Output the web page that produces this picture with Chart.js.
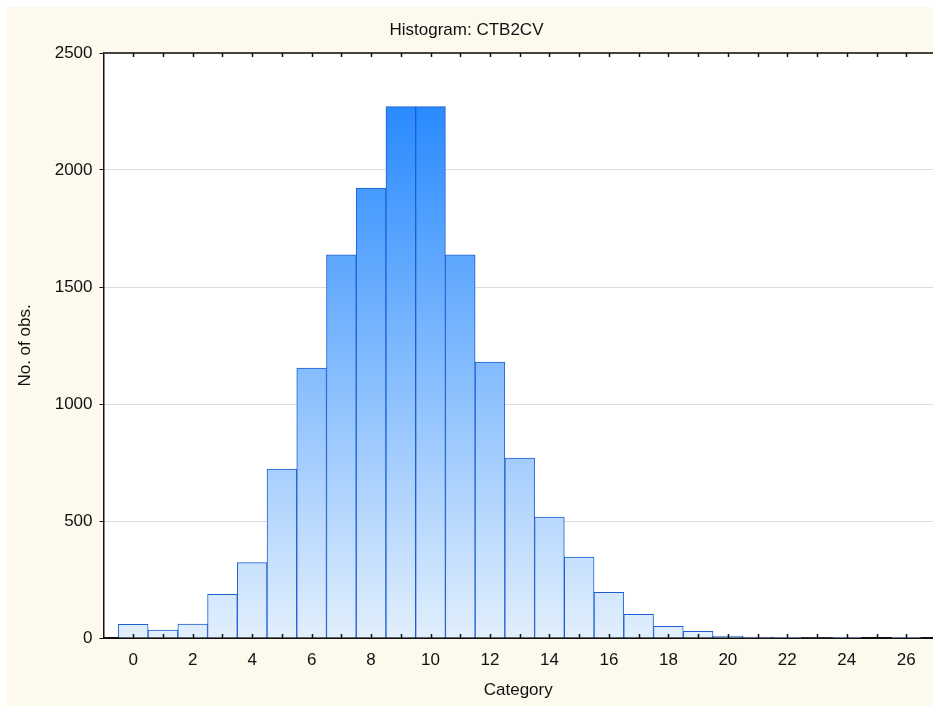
<!DOCTYPE html>
<html>
<head>
<meta charset="utf-8">
<script src="https://cdn.jsdelivr.net/npm/chart.js@4.4.1/dist/chart.umd.min.js"></script>
<style>
  html, body { margin: 0; padding: 0; background: #ffffff; }
  #wrap { width: 933px; height: 706px; }
</style>
</head>
<body>
<div id="wrap"><canvas id="myChart" width="933" height="706"></canvas></div>
<script>
// histogram data
var categories = [0, 1, 2, 3, 4, 5, 6, 7, 8, 9, 10, 11, 12, 13, 14, 15, 16, 17, 18, 19, 20, 21, 22, 23, 24, 25, 26];
var counts = [58, 34, 60, 187, 322, 722, 1154, 1637, 1923, 2271, 2271, 1637, 1179, 769, 517, 346, 195, 101, 50, 29, 8, 4, 1, 2, 1, 0, 1];
var yTicks = [0, 500, 1000, 1500, 2000, 2500];

var cream = "#fdf9ed";
var fontFamily = "Liberation Sans, Arial, sans-serif";
var fontSize = 17;

// cream page, white plot area, top frame line and inward ticks
var framePlugin = {
    id: "frame",
    beforeDraw: function(chart){
        var ctx = chart.ctx, a = chart.chartArea;
        ctx.save();
        ctx.fillStyle = "#ffffff";
        ctx.fillRect(0, 0, chart.width, chart.height);
        ctx.fillStyle = cream;
        ctx.fillRect(6, 7, chart.width - 6, chart.height - 7);
        ctx.fillStyle = "#ffffff";
        ctx.fillRect(a.left, a.top, a.right - a.left, a.bottom - a.top);
        ctx.restore();
    },
    afterDraw: function(chart){
        var ctx = chart.ctx, a = chart.chartArea, xs = chart.scales.x;
        ctx.save();
        ctx.strokeStyle = "#444444";
        ctx.lineWidth = 2;
        ctx.beginPath();
        ctx.moveTo(a.left, a.top);
        ctx.lineTo(a.right, a.top);
        ctx.stroke();
        ctx.strokeStyle = "#111111";
        ctx.lineWidth = 1.5;
        categories.forEach(function(c){
            var px = Math.round(xs.getPixelForValue(c)) + 0.5;
            ctx.beginPath();
            ctx.moveTo(px, a.bottom);
            ctx.lineTo(px, a.bottom - 4);
            ctx.moveTo(px, a.top);
            ctx.lineTo(px, a.top + 4);
            ctx.stroke();
        });
        ctx.restore();
    }
};

function barFill(context){
    var chart = context.chart, a = chart.chartArea;
    if (!a) return "#8ec0ff";
    var g = chart.ctx.createLinearGradient(0, a.top, 0, a.bottom);
    g.addColorStop(0, "rgb(22,128,255)");
    g.addColorStop(1, "rgb(226,239,253)");
    return g;
}

function showChart(){
    var points = categories.map(function(c, i){ return {x: c, y: counts[i]}; });

    new Chart("myChart", {
        type: "bar",
        data: {
            datasets: [{
                data: points,
                backgroundColor: barFill,
                borderColor: "#1d5fd3",
                borderWidth: 1,
                borderSkipped: "start",
                barPercentage: 1,
                categoryPercentage: 1
            }]
        },
        plugins: [framePlugin],
        options: {
            responsive: false,
            animation: false,
            layout: { padding: 0 },
            plugins: {
                legend: { display: false },
                tooltip: { enabled: false },
                title: {
                    display: true,
                    text: "Histogram: CTB2CV",
                    color: "#111111",
                    font: { family: fontFamily, size: fontSize, weight: "normal", lineHeight: 1.2 },
                    padding: { top: 19.8, bottom: 12.8 }
                }
            },
            scales: {
                x: {
                    type: "linear",
                    offset: false,
                    min: -1,
                    max: 26.9,
                    afterFit: function(s){ s.height = 68; },
                    afterBuildTicks: function(s){
                        s.ticks = categories.map(function(v){ return {value: v}; });
                    },
                    grid: { display: false, drawTicks: false },
                    border: { color: "#111111", width: 2 },
                    ticks: {
                        padding: 12,
                        color: "#111111",
                        maxRotation: 0,
                        autoSkip: false,
                        font: { family: fontFamily, size: fontSize },
                        callback: function(v){
                            return (v % 2 === 0) ? String(v) : "";
                        }
                    },
                    title: {
                        display: true,
                        text: "Category",
                        color: "#111111",
                        font: { family: fontFamily, size: fontSize, lineHeight: 1.2 },
                        padding: { top: 0, bottom: 5.8 }
                    }
                },
                y: {
                    min: yTicks[0],
                    max: yTicks[yTicks.length - 1],
                    afterFit: function(s){ s.width = 103.5; },
                    afterBuildTicks: function(s){
                        s.ticks = yTicks.map(function(v){ return {value: v}; });
                    },
                    grid: { color: "#dcdcdc", lineWidth: 1, tickColor: "#111111", tickLength: 4 },
                    border: { color: "#111111", width: 1.5 },
                    ticks: {
                        padding: 7,
                        color: "#111111",
                        font: { family: fontFamily, size: fontSize },
                        callback: function(v){ return String(v); }
                    },
                    title: {
                        display: true,
                        text: "No. of obs.",
                        color: "#111111",
                        font: { family: fontFamily, size: fontSize, lineHeight: 1.2 },
                        padding: { top: 14.8, bottom: 0 }
                    }
                }
            }
        }
    });
}

function loadItems(){
    showChart();
}

window.addEventListener("load", loadItems);
</script>
</body>
</html>
